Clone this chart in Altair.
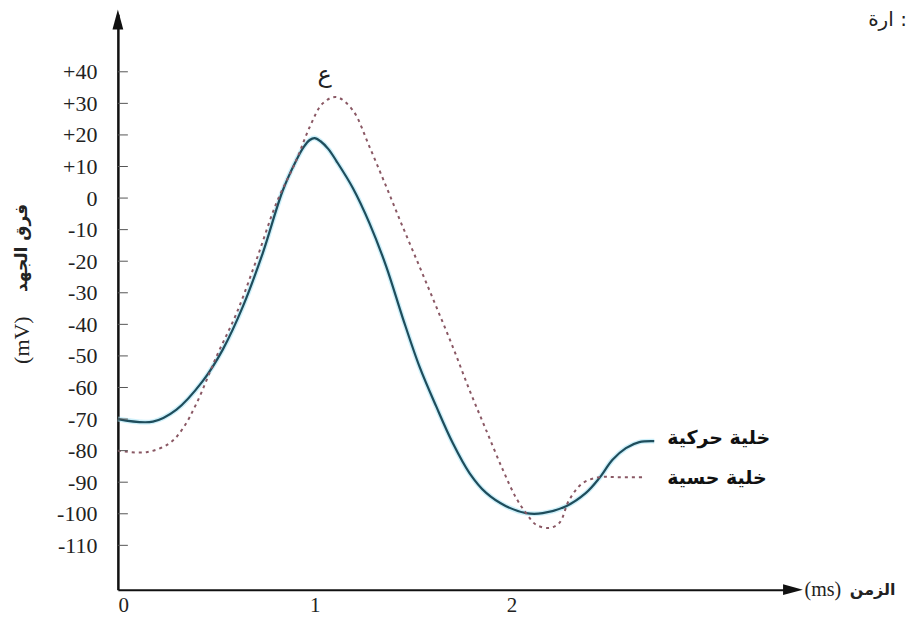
import altair as alt
import pandas as pd

# ---- data ----
motor_t = [0.0, 0.178, 0.298, 0.431, 0.533, 0.635, 0.736, 0.838, 0.907, 0.945, 0.975, 1.0,
           1.03, 1.07, 1.11, 1.194, 1.279, 1.364, 1.448, 1.533, 1.618, 1.702, 1.787, 1.872,
           1.973, 2.075, 2.159, 2.278, 2.379, 2.447, 2.514, 2.582, 2.65, 2.726]
motor_v = [-70, -70.8, -67, -58, -48, -34.4, -17.5, 2.4, 12, 16.2, 18.4, 19,
           18, 15.5, 11.8, 3.2, -8, -21.7, -38, -53.4, -66, -77.6, -87.1, -93.4,
           -97.6, -99.8, -99.8, -97.6, -93.4, -88.7, -82.9, -79.2, -77.3, -77]

sensory_t = [0.0, 0.146, 0.264, 0.33, 0.40, 0.501, 0.603, 0.704, 0.805, 0.907, 0.975,
             1.041, 1.11, 1.193, 1.279, 1.364, 1.447, 1.533, 1.618, 1.702, 1.787, 1.871,
             1.956, 2.024, 2.075, 2.126, 2.193, 2.244, 2.294, 2.362, 2.447, 2.53, 2.665]
sensory_v = [-80, -80.5, -77.6, -73, -65, -50.2, -36.5, -19.6, -1.7, 12, 22.5,
             30, 32, 27.9, 16.2, 3.6, -9, -21.7, -34.4, -47.1, -60.8, -73.4,
             -86, -95, -99.8, -103.5, -104.5, -102.9, -95.6, -90.3, -88.4, -88.4, -88.4]

y_ticks = [40, 30, 20, 10, 0, -10, -20, -30, -40, -50, -60, -70, -80, -90, -100, -110]
x_ticks = [0, 1, 2]

series_labels = ["خلية حركية", "خلية حسية"]
y_title_ar = "فرق الجهد"
y_title_unit = "(mV)"
x_title_ar = "الزمن"
x_title_unit = "(ms)"
peak_label = "ع"
corner_text = "ارة :"

X_DOMAIN = [0, 3.437]
Y_DOMAIN = [-124.05, 58.2]

xs = alt.Scale(domain=X_DOMAIN, nice=False, zero=False)
ys = alt.Scale(domain=Y_DOMAIN, nice=False, zero=False)

X_AXIS = alt.Axis(
    values=x_ticks, title=None, grid=False, ticks=False, tickSize=0,
    labelFont="Liberation Serif", labelFontSize=21, labelColor="#222",
    labelPadding=5, domainColor="#111", domainWidth=2)
Y_AXIS = alt.Axis(
    values=y_ticks, title=None, grid=False, ticks=False, tickSize=0,
    labelExpr="datum.value > 0 ? '+' + datum.value : '' + datum.value",
    labelFont="Liberation Serif", labelFontSize=22, labelColor="#222",
    labelPadding=21, domainColor="#111", domainWidth=2.5)


def X():
    return alt.X("t:Q", scale=xs, axis=X_AXIS)


def Y():
    return alt.Y("v:Q", scale=ys, axis=Y_AXIS)


motor = pd.DataFrame({"t": motor_t, "v": motor_v})
sensory = pd.DataFrame({"t": sensory_t, "v": sensory_v})
ticks = pd.DataFrame({"v": y_ticks})

glow = alt.Chart(motor).mark_line(
    color="#a6e3f5", strokeWidth=5, opacity=0.55, interpolate="catmull-rom"
).encode(x=X(), y=Y())

motor_line = alt.Chart(motor).mark_line(
    color="#1e4d5c", strokeWidth=2.2, interpolate="catmull-rom"
).encode(x=X(), y=Y())

sensory_line = alt.Chart(sensory).mark_line(
    color="#8a5864", strokeWidth=2, strokeDash=[3, 4], interpolate="catmull-rom"
).encode(x=X(), y=Y())

tick_rules = alt.Chart(ticks).mark_rule(color="#555", strokeWidth=1).encode(
    x=alt.value(0), x2=alt.value(10), y=Y(),
)

# arrow heads at the axis ends
arrows = pd.DataFrame({"t": [0.0, 3.39], "v": [54.0, -124.05],
                       "shape": ["M0,-1L0.3,0.1L-0.3,0.1Z", "M1,0L-0.1,0.3L-0.1,-0.3Z"]})
arrow_marks = alt.Chart(arrows).mark_point(
    filled=True, color="#111", opacity=1, size=1300
).encode(
    x=X(), y=Y(),
    shape=alt.Shape("shape:N", scale=None),
)

# series labels
lab_df = pd.DataFrame({"t": [2.792, 2.792], "v": [-75.9, -88.6], "text": series_labels})
labels = alt.Chart(lab_df).mark_text(
    align="left", baseline="middle", font="DejaVu Sans", fontWeight="bold",
    fontSize=19, color="#111"
).encode(x=X(), y=Y(), text="text:N")

peak_df = pd.DataFrame({"t": [1.051], "v": [38.9], "text": [peak_label]})
peak = alt.Chart(peak_df).mark_text(
    align="center", baseline="middle", font="DejaVu Sans", fontSize=24, color="#222"
).encode(x=X(), y=Y(), text="text:N")

corner_df = pd.DataFrame({"t": [4.01], "v": [56.3], "text": [corner_text]})
corner = alt.Chart(corner_df).mark_text(
    align="right", baseline="middle", font="DejaVu Sans", fontSize=20, color="#222"
).encode(x=X(), y=Y(), text="text:N")

# axis titles
ytu_df = pd.DataFrame({"t": [-0.487], "v": [-45.0], "text": [y_title_unit]})
ytu = alt.Chart(ytu_df).mark_text(
    align="center", baseline="middle", angle=270, font="Liberation Serif",
    fontSize=22, color="#222"
).encode(x=X(), y=Y(), text="text:N")

yta_df = pd.DataFrame({"t": [-0.487], "v": [-15.8], "text": [y_title_ar]})
yta = alt.Chart(yta_df).mark_text(
    align="center", baseline="middle", angle=270, font="DejaVu Sans",
    fontWeight="bold", fontSize=17, color="#222"
).encode(x=X(), y=Y(), text="text:N")

xtu_df = pd.DataFrame({"t": [3.49], "v": [-124.05], "text": [x_title_unit]})
xtu = alt.Chart(xtu_df).mark_text(
    align="left", baseline="middle", font="Liberation Serif", fontSize=20, color="#222"
).encode(x=X(), y=Y(), text="text:N")

xta_df = pd.DataFrame({"t": [3.72], "v": [-124.05], "text": [x_title_ar]})
xta = alt.Chart(xta_df).mark_text(
    align="left", baseline="middle", font="DejaVu Sans", fontWeight="bold",
    fontSize=16, color="#222"
).encode(x=X(), y=Y(), text="text:N")

chart = alt.layer(
    glow, motor_line, sensory_line, tick_rules, arrow_marks,
    labels, peak, corner, ytu, yta, xtu, xta
).properties(
    width=677, height=576,
    autosize=alt.AutoSizeParams(type="none"),
    padding={"left": 110, "top": 6, "right": 115, "bottom": 31},
    background="white",
).configure_view(stroke=None)

chart.save("out.html", embed_options={"renderer": "svg", "actions": False})
